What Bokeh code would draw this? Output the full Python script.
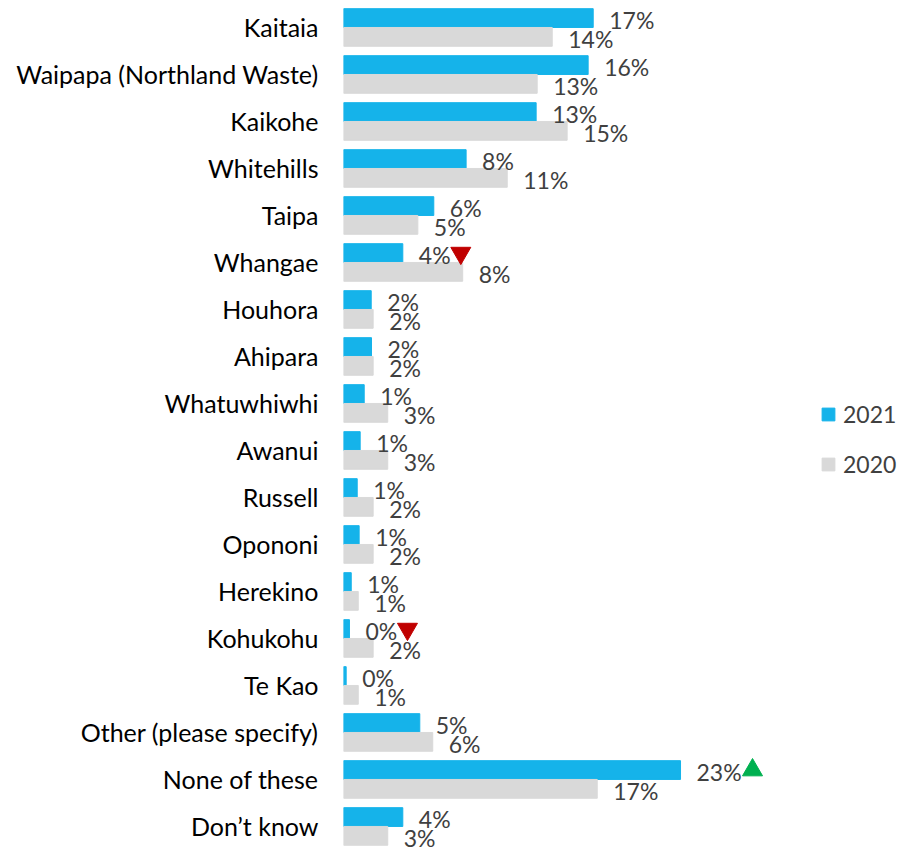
from bokeh.plotting import figure
from bokeh.models import ColumnDataSource, Range1d, FixedTicker, Legend, LegendItem
from bokeh.transform import dodge
from bokeh.core.properties import value
from bokeh.embed import file_html
from bokeh.resources import INLINE

categories = ["Kaitaia", "Waipapa (Northland Waste)", "Kaikohe", "Whitehills", "Taipa",
              "Whangae", "Houhora", "Ahipara", "Whatuwhiwhi", "Awanui", "Russell",
              "Opononi", "Herekino", "Kohukohu", "Te Kao", "Other (please specify)",
              "None of these", "Don\u2019t know"]
v2021 = [16.76, 16.42, 12.93, 8.23, 6.06, 3.98, 1.86, 1.88, 1.39, 1.12, 0.92, 1.05,
         0.52, 0.40, 0.18, 5.12, 22.62, 3.98]
v2020 = [14.01, 13.0, 15.01, 10.99, 4.99, 8.0, 1.99, 1.99, 2.97, 2.97, 1.99, 1.99,
         0.99, 1.99, 0.99, 5.99, 17.03, 2.97]
sig_cats = ["Whangae", "Kohukohu", "None of these"]
sig_dir = ["down", "down", "up"]

BLUE = "#15B3EA"
GREY = "#D9D9D9"
FONT = "Lato"

n = len(categories)
ypos = [n - 1 - i for i in range(n)]
src = ColumnDataSource(dict(
    y=ypos, cat=categories, v2021=v2021, v2020=v2020,
    l2021=[f"{round(v)}%" for v in v2021],
    l2020=[f"{round(v)}%" for v in v2020],
))

X_END = 37.25
p = figure(width=898, height=852, x_range=Range1d(0, X_END),
           y_range=Range1d(-0.554, 17.574), output_backend="svg",
           toolbar_location=None, min_border=0, min_border_left=343)
p.xaxis.visible = False
p.grid.visible = False
p.outline_line_color = None
p.background_fill_color = None
p.border_fill_color = None

yax = p.yaxis[0]
yax.ticker = FixedTicker(ticks=ypos)
yax.major_label_overrides = {y: c for y, c in zip(ypos, categories)}
yax.axis_line_color = None
yax.major_tick_line_color = None
yax.minor_tick_line_color = None
yax.major_tick_out = 0
yax.major_tick_in = 0
yax.major_label_standoff = 25
yax.major_label_text_font = FONT
yax.major_label_text_font_size = "25px"
yax.major_label_text_color = "#000000"

r1 = p.hbar(y=dodge("y", 0.2), left=0, right="v2021", height=0.4, color=BLUE, source=src)
r2 = p.hbar(y=dodge("y", -0.2), left=0, right="v2020", height=0.4, color=GREY, source=src)

common = dict(x_offset=16, text_align="left", text_baseline="alphabetic",
              text_font=value(FONT), text_font_size="23px", text_color="#404040")
p.text(x="v2021", y=dodge("y", 0.15), text="l2021", source=src, **common)
p.text(x="v2020", y=dodge("y", -0.25), text="l2020", source=src, **common)

# significance markers
scale = (898 - 343) / X_END
mk = dict(x=[], y=[], marker=[], color=[])
for c, d in zip(sig_cats, sig_dir):
    i = categories.index(c)
    lab = f"{round(v2021[i])}%"
    mk["x"].append(v2021[i] + (30 + 14 * len(lab)) / scale)
    mk["y"].append(ypos[i] + 0.2)
    mk["marker"].append("inverted_triangle" if d == "down" else "triangle")
    mk["color"].append("#C00000" if d == "down" else "#00B050")
p.scatter(x="x", y="y", marker="marker", color="color", size=20,
          source=ColumnDataSource(mk))

legend = Legend(items=[LegendItem(label="2021", renderers=[r1]),
                       LegendItem(label="2020", renderers=[r2])],
                location=(477, 373), orientation="vertical",
                glyph_width=16, glyph_height=16, label_standoff=7,
                padding=0, margin=0, spacing=20, label_height=30,
                border_line_color=None, background_fill_alpha=0,
                label_text_font=FONT, label_text_font_size="23px",
                label_text_color="#404040")
p.add_layout(legend)

open("out.html", "w").write(file_html(p, INLINE))
